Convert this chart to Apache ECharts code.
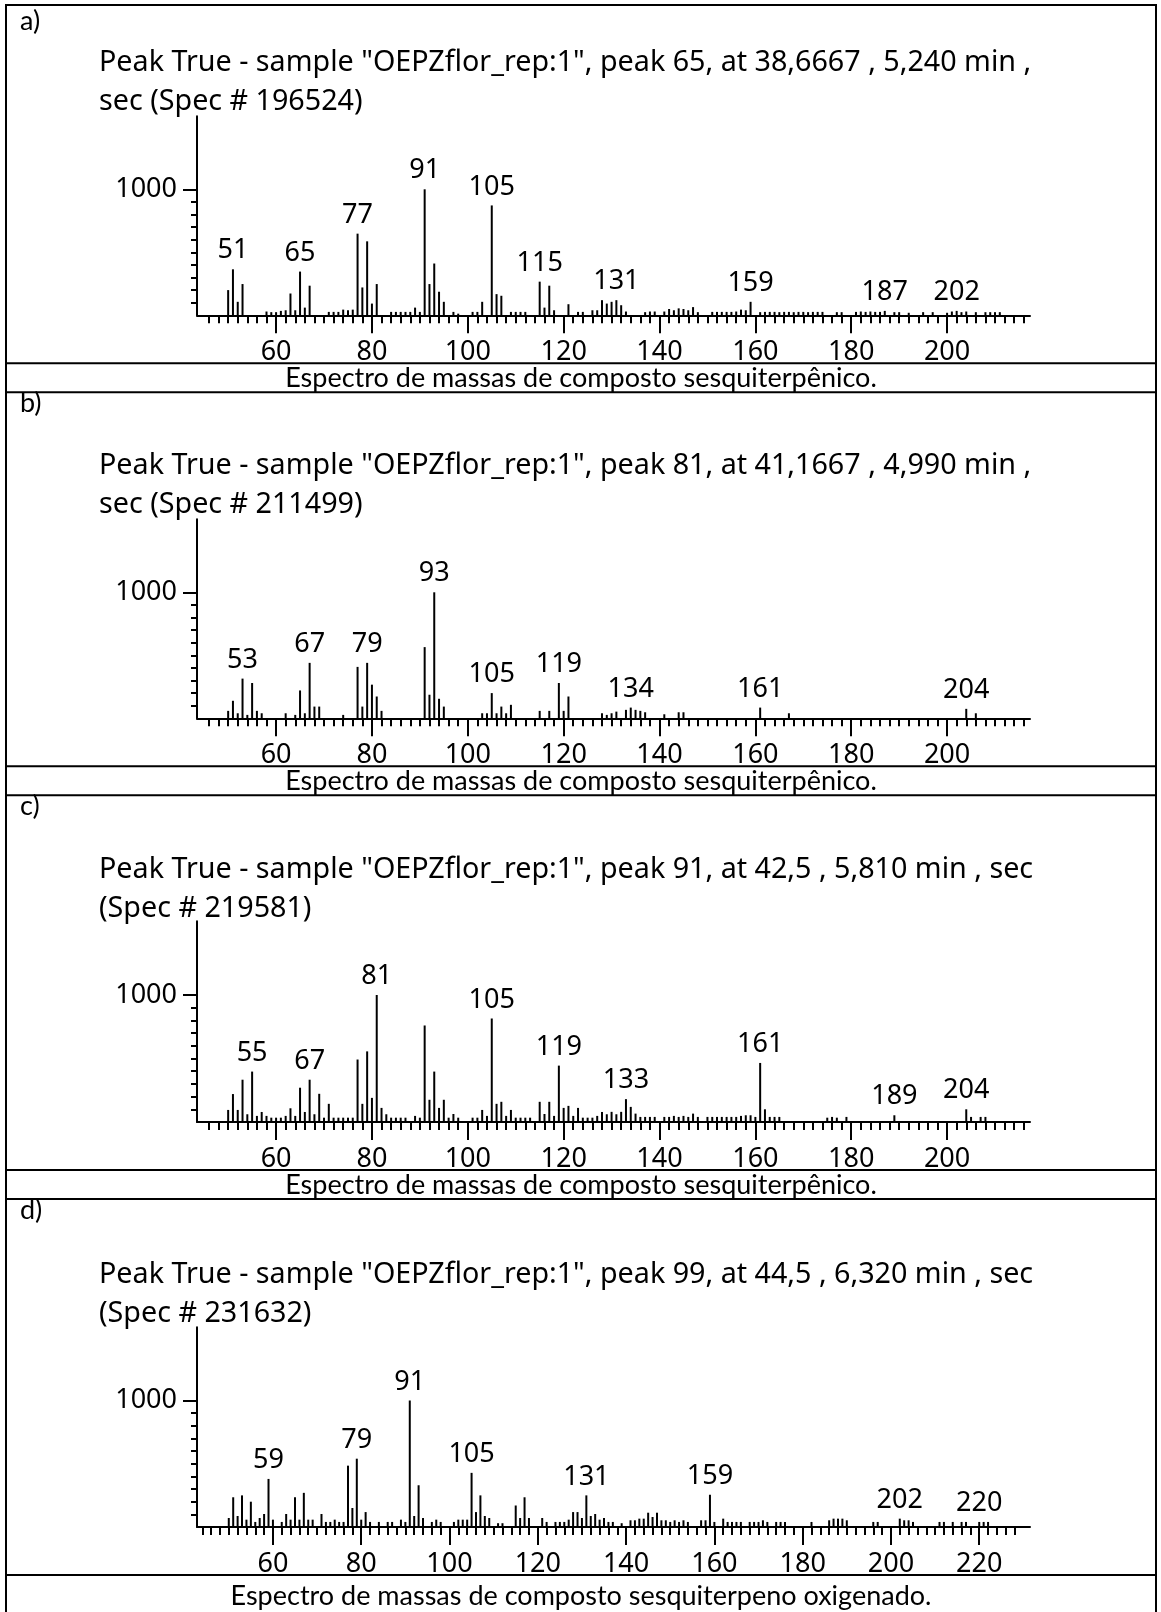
<!DOCTYPE html>
<html>
<head>
<meta charset="utf-8">
<script src="https://cdn.jsdelivr.net/npm/echarts@6/dist/echarts.min.js"></script>
<style>
  html, body { margin: 0; padding: 0; background: #fff; }
  #chart { width: 1161px; height: 1612px; }
</style>
</head>
<body>
<div id="chart"></div>
<script>
// ---- Mass spectra (m/z vs. relative abundance, base peak = 1000) ----

// a) peak 65
const mzA  = [50,51,52,53,58,59,60,61,62,63,64,65,66,67,71,72,73,74,75,76,77,78,79,80,81,84,85,86,87,88,89,90,91,92,93,94,95,97,98,101,102,103,105,106,107,109,110,111,112,115,116,117,118,121,123,124,126,127,128,129,130,131,132,133,137,138,139,141,142,143,144,145,146,147,148,151,152,153,154,155,156,157,158,159,161,162,163,164,165,166,167,168,169,170,171,172,173,174,177,178,181,182,183,184,185,186,187,189,190,192,195,197,200,201,202,203,204,206,208,209,210,211];
const intA = [200,365,107,248,30,25,25,35,40,173,40,347,61,235,27,27,27,45,40,45,648,221,587,93,248,27,27,27,27,27,61,27,1000,248,411,187,107,27,13,27,27,107,872,168,155,27,27,27,27,267,61,235,40,88,27,27,40,40,120,93,107,120,80,30,25,30,30,30,50,40,55,50,40,65,25,27,27,27,27,27,30,45,40,107,25,27,27,27,25,27,27,25,27,27,25,27,27,27,25,25,27,30,27,30,27,27,35,25,25,20,25,25,20,30,35,25,30,25,25,25,25,25];
const labA = [51,65,77,91,105,115,131,159,187,202];

// b) peak 81
const mzB  = [50,51,52,53,54,55,56,57,62,64,65,66,67,68,69,74,77,78,79,80,81,82,91,92,93,94,95,103,104,105,106,107,108,109,115,117,119,120,121,128,129,130,131,133,134,135,136,137,141,144,145,161,167,204,206];
const intB = [59,139,40,315,27,280,59,40,40,27,221,40,440,93,93,27,408,93,440,267,173,59,565,187,1000,155,93,40,40,200,40,93,40,107,59,59,280,59,173,40,27,40,53,67,85,67,59,48,32,48,48,85,40,75,40];
const labB = [53,67,79,93,105,119,134,161,204];

// c) peak 91
const mzC  = [50,51,52,53,54,55,56,57,58,59,60,61,62,63,64,65,66,67,68,69,70,71,72,73,74,75,76,77,78,79,80,81,82,83,84,85,86,87,89,90,91,92,93,94,95,96,97,98,101,102,103,104,105,106,107,108,109,110,111,112,113,115,116,117,118,119,120,121,122,123,124,125,126,127,128,129,130,131,132,133,134,135,136,137,138,139,141,142,143,144,145,146,147,148,150,151,152,153,154,155,156,157,158,159,160,161,162,163,164,165,175,176,177,179,189,204,205,207,208];
const intC = [95,220,95,333,61,397,48,79,48,34,34,34,48,108,48,270,79,333,61,222,34,143,34,34,34,34,34,492,143,556,190,1000,111,61,34,34,34,34,48,34,760,175,397,111,175,34,63,34,34,34,95,48,815,143,159,48,95,34,34,34,34,159,63,159,48,444,111,127,48,111,34,34,34,48,79,61,80,61,80,180,119,66,40,40,40,40,40,40,48,40,48,40,66,40,40,40,40,40,40,40,40,48,53,53,40,465,100,40,40,40,34,40,34,40,53,100,40,40,40];
const labC = [55,67,81,105,119,133,161,189,204];

// d) peak 99
const mzD  = [50,51,52,53,54,55,56,57,58,59,60,62,63,64,65,66,67,68,69,71,72,73,74,75,76,77,78,79,80,81,82,84,86,87,89,90,91,92,93,94,96,97,98,101,102,103,104,105,106,107,108,109,111,112,115,116,117,118,121,122,124,125,126,127,128,129,130,131,132,133,134,135,136,137,139,141,142,143,144,145,146,147,148,149,150,151,152,153,154,157,158,159,160,162,163,164,165,166,168,169,170,171,172,174,175,176,182,186,187,188,189,190,196,197,202,203,204,205,211,212,214,216,217,220,221,222];
const intD = [71,235,87,250,58,200,40,71,103,380,58,40,103,58,235,58,270,58,58,103,40,40,58,40,40,485,150,540,58,118,40,40,40,40,58,40,1000,87,330,71,40,58,40,40,58,58,58,428,118,250,87,71,30,30,170,71,235,71,71,40,40,40,40,58,118,118,71,250,87,103,58,71,40,40,30,53,53,66,66,113,79,113,53,53,40,53,40,53,40,53,53,255,40,66,40,40,40,40,40,40,40,53,40,40,40,40,40,53,66,66,66,53,40,40,66,53,53,40,40,40,40,40,40,40,40,40];
const labD = [59,79,91,105,131,159,202,220];

// axis tick labels
const xLabelsABC = [60,80,100,120,140,160,180,200];
const xLabelsD   = [60,80,100,120,140,160,180,200,220];
const yLabels    = [1000];

const headers = [
  ['Peak True - sample "OEPZflor_rep:1", peak 65, at 38,6667 , 5,240 min ,', 'sec (Spec # 196524)'],
  ['Peak True - sample "OEPZflor_rep:1", peak 81, at 41,1667 , 4,990 min ,', 'sec (Spec # 211499)'],
  ['Peak True - sample "OEPZflor_rep:1", peak 91, at 42,5 , 5,810 min , sec', '(Spec # 219581)'],
  ['Peak True - sample "OEPZflor_rep:1", peak 99, at 44,5 , 6,320 min , sec', '(Spec # 231632)']
];
const tags = ['a)', 'b)', 'c)', 'd)'];
const captions = [
  'Espectro de massas de composto sesquiterpênico.',
  'Espectro de massas de composto sesquiterpênico.',
  'Espectro de massas de composto sesquiterpênico.',
  'Espectro de massas de composto sesquiterpeno oxigenado.'
];

// ---- layout of the four table cells ----
const panels = [
  { mz: mzA, it: intA, lab: labA, xl: xLabelsABC, xmin: 43.5, xmax: 217.3, tk: [46, 216], base: 315.3, k: 126 },
  { mz: mzB, it: intB, lab: labB, xl: xLabelsABC, xmin: 43.5, xmax: 217.3, tk: [46, 216], base: 718.3, k: 126 },
  { mz: mzC, it: intC, lab: labC, xl: xLabelsABC, xmin: 43.5, xmax: 217.3, tk: [46, 216], base: 1122,  k: 127 },
  { mz: mzD, it: intD, lab: labD, xl: xLabelsD,   xmin: 42.8, xmax: 231.5, tk: [44, 228], base: 1527,  k: 126.5 }
];
const YMAX = 1580;
const GRID_LEFT = 197, GRID_W = 833;
const TABLE_L = 6, TABLE_R = 1156, TABLE_TOP = 5;
const INK = '#000';
const chartFont = '"Noto Sans", "DejaVu Sans", sans-serif';
const capFont = 'Lato, "Open Sans", sans-serif';

function range(a, b, s) { const r = []; for (let v = a; v <= b; v += s) r.push(v); return r; }
function hline(y) {
  return { type: 'line', shape: { x1: TABLE_L, y1: y, x2: TABLE_R, y2: y }, style: { stroke: INK, lineWidth: 2 } };
}

const grid = [], xAxis = [], yAxis = [], series = [], graphic = [];
let cellTop = TABLE_TOP;

panels.forEach((p, i) => {
  const h = YMAX / 1000 * p.k;
  const last = i === panels.length - 1;
  grid.push({ left: GRID_LEFT, width: GRID_W, top: p.base - h, height: h });

  const line = { color: INK, width: 2 };
  const axLabel = { color: INK, fontFamily: chartFont, fontSize: 27, formatter: (v) => String(v) };

  // major x axis (line, long ticks, labels)
  xAxis.push({
    type: 'value', gridIndex: i, min: p.xmin, max: p.xmax, position: 'bottom',
    axisLine: { show: true, onZero: false, lineStyle: line },
    axisTick: { show: true, customValues: p.xl, length: 18, lineStyle: line },
    axisLabel: Object.assign({ customValues: p.xl, margin: 24 }, axLabel),
    splitLine: { show: false }
  });
  // minor x ticks every 2 units
  xAxis.push({
    type: 'value', gridIndex: i, min: p.xmin, max: p.xmax, position: 'bottom',
    axisLine: { show: false, onZero: false },
    axisTick: { show: true, customValues: range(p.tk[0], p.tk[1], 2), length: 8, lineStyle: line },
    axisLabel: { show: false },
    splitLine: { show: false }
  });
  // major y axis
  yAxis.push({
    type: 'value', gridIndex: i, min: 0, max: YMAX, position: 'left',
    axisLine: { show: true, onZero: false, lineStyle: line },
    axisTick: { show: true, customValues: yLabels, length: 14, lineStyle: line },
    axisLabel: Object.assign({ customValues: yLabels, margin: 20 }, axLabel),
    splitLine: { show: false }
  });
  // minor y ticks every 100
  yAxis.push({
    type: 'value', gridIndex: i, min: 0, max: YMAX, position: 'left',
    axisLine: { show: false, onZero: false },
    axisTick: { show: true, customValues: range(100, 900, 100), length: 6, lineStyle: line },
    axisLabel: { show: false },
    splitLine: { show: false }
  });

  series.push({
    type: 'bar', xAxisIndex: 2 * i, yAxisIndex: 2 * i,
    barWidth: 2, itemStyle: { color: INK },
    label: {
      show: false, position: 'top', distance: 5, color: INK,
      fontFamily: chartFont, fontSize: 27,
      formatter: (d) => String(d.value[0])
    },
    data: p.mz.map((m, j) => ({
      value: [m, p.it[j]],
      label: { show: p.lab.indexOf(m) >= 0 }
    }))
  });

  // cell header: tag + two-line peak title
  graphic.push({ type: 'text', style: { text: tags[i], x: 20, y: cellTop + (i === 0 ? 16 : 11), font: '27px ' + capFont, fill: INK, textVerticalAlign: 'middle' } });
  graphic.push({ type: 'text', style: { text: headers[i][0], x: 99, y: p.base - 252, font: '28.7px ' + chartFont, fill: INK, textVerticalAlign: 'middle' } });
  graphic.push({ type: 'text', style: { text: headers[i][1], x: 99, y: p.base - 213, font: '28.7px ' + chartFont, fill: INK, textVerticalAlign: 'middle' } });
  // caption row
  graphic.push({ type: 'text', style: { text: captions[i], x: 581, y: p.base + (last ? 69 : 63), font: '27px ' + capFont, fill: INK, textAlign: 'center', textVerticalAlign: 'middle' } });
  graphic.push(hline(p.base + 48));
  if (!last) graphic.push(hline(p.base + 77));
  cellTop = p.base + 77;
});

// table frame
graphic.push({ type: 'line', shape: { x1: 5, y1: TABLE_TOP, x2: 1157, y2: TABLE_TOP }, style: { stroke: INK, lineWidth: 2 } });
graphic.push({ type: 'line', shape: { x1: TABLE_L, y1: 4, x2: TABLE_L, y2: 1612 }, style: { stroke: INK, lineWidth: 2 } });
graphic.push({ type: 'line', shape: { x1: TABLE_R, y1: 4, x2: TABLE_R, y2: 1612 }, style: { stroke: INK, lineWidth: 2 } });

const chart = echarts.init(document.getElementById('chart'), null, { renderer: 'canvas' });
chart.setOption({
  animation: false,
  backgroundColor: '#fff',
  grid, xAxis, yAxis, series, graphic
});
</script>
</body>
</html>
